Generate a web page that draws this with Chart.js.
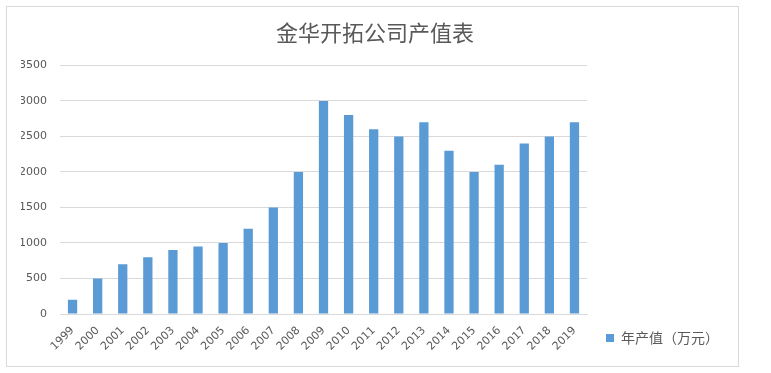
<!DOCTYPE html>
<html>
<head>
<meta charset="utf-8">
<script src="https://cdn.jsdelivr.net/npm/chart.js"></script>
<style>
  body { margin: 0; background: #fff; width: 771px; height: 373px; overflow: hidden; }
  .frame { position: absolute; left: 6px; top: 6px; width: 731px; height: 359px; border: 1px solid #d9d9d9; }
  canvas { position: absolute; left: 0; top: 0; }
</style>
</head>
<body>
<div class="frame"><canvas id="myChart" width="731" height="359"></canvas></div>
<script>
const years = ['1999', '2000', '2001', '2002', '2003', '2004', '2005', '2006', '2007', '2008', '2009',
  '2010', '2011', '2012', '2013', '2014', '2015', '2016', '2017', '2018', '2019'];
const output = [200, 500, 700, 800, 900, 950, 1000, 1200, 1500, 2000, 3000,
  2800, 2600, 2500, 2700, 2300, 2000, 2100, 2400, 2500, 2700];
const seriesName = '年产值（万元）';
const chartTitle = '金华开拓公司产值表';
const yMax = 3500;
const yStep = 500;

const grey = '#595959';
const ctx = document.getElementById('myChart');

new Chart(ctx, {
  type: 'bar',
  data: {
    labels: years,
    datasets: [{
      label: seriesName,
      data: output,
      backgroundColor: '#5b9bd5',
      borderWidth: 0,
      barPercentage: 0.37,
      categoryPercentage: 1
    }]
  },
  options: {
    responsive: false,
    animation: false,
    layout: { padding: { left: 14, right: 9, top: 0, bottom: 2 } },
    plugins: {
      title: {
        display: true,
        text: chartTitle,
        color: grey,
        font: { family: '"Noto Sans CJK SC"', size: 22, weight: 'normal' },
        padding: { top: 12, bottom: 20 }
      },
      legend: {
        position: 'right',
        align: 'end',
        labels: {
          boxWidth: 8,
          boxHeight: 8,
          padding: 19,
          color: grey,
          font: { family: '"Noto Sans CJK SC"', size: 14 }
        }
      },
      tooltip: { enabled: false }
    },
    scales: {
      x: {
        grid: { display: false, drawTicks: false },
        border: { display: true, color: '#d9d9d9', width: 1 },
        ticks: {
          color: grey,
          font: { family: '"DejaVu Sans"', size: 11 },
          autoSkip: false,
          minRotation: 45,
          maxRotation: 45,
          padding: 10
        },
        afterFit: function (scale) { scale.height = 50; }
      },
      y: {
        min: 0,
        max: yMax,
        grid: { color: '#d9d9d9', drawTicks: false },
        border: { display: false },
        ticks: {
          stepSize: yStep,
          color: grey,
          font: { family: '"DejaVu Sans"', size: 11 },
          padding: 13,
          callback: function (value) { return String(value); }
        },
        afterFit: function (scale) { scale.width = 39; }
      }
    }
  }
});
</script>
</body>
</html>
